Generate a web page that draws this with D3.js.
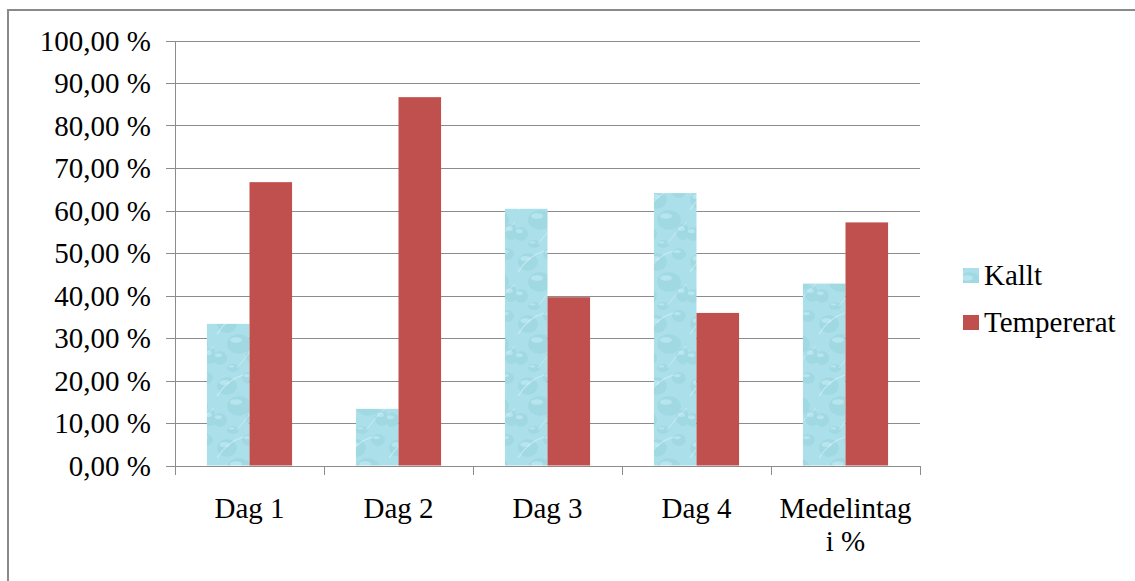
<!DOCTYPE html>
<html>
<head>
<meta charset="utf-8">
<script src="https://cdn.jsdelivr.net/npm/d3@7"></script>
<style>
  html, body { margin: 0; padding: 0; background: #fff; }
  svg { display: block; }
  text { font-family: "Liberation Serif", "Times New Roman", serif; fill: #000; }
</style>
</head>
<body>
<div id="chart"></div>
<script>
const categories = ["Dag 1", "Dag 2", "Dag 3", "Dag 4", "Medelintag i %"];
const seriesNames = ["Kallt", "Tempererat"];
const kallt = [33.33, 13.33, 60.4, 64.1, 42.8];
const tempererat = [66.67, 86.67, 39.6, 35.9, 57.2];
const yTicks = [0, 10, 20, 30, 40, 50, 60, 70, 80, 90, 100];

const W = 1135, H = 581;
const plot = { left: 175, right: 920, top: 40.5, bottom: 465.5 };
const FS = 29;

const svg = d3.select("#chart").append("svg").attr("width", W).attr("height", H);

// water-drop texture for "Kallt"
const defs = svg.append("defs");
const pat = defs.append("pattern").attr("id", "water")
  .attr("patternUnits", "userSpaceOnUse").attr("width", 43).attr("height", 62);
pat.append("rect").attr("width", 43).attr("height", 62).attr("fill", "#abe0ea");
const drops = [
  [12, 14, 10, 9], [34, 6, 7, 6], [24, 34, 12, 10], [5, 48, 7, 7], [38, 46, 7, 8], [18, 58, 6, 4]
];
drops.forEach(d => {
  pat.append("ellipse").attr("cx", d[0]).attr("cy", d[1]).attr("rx", d[2]).attr("ry", d[3])
    .attr("fill", "#94d0dc").attr("opacity", 0.45);
  pat.append("ellipse").attr("cx", d[0] - d[2] * 0.25).attr("cy", d[1] - d[3] * 0.4)
    .attr("rx", d[2] * 0.5).attr("ry", d[3] * 0.28)
    .attr("fill", "#c6edf4").attr("opacity", 0.6);
});
pat.append("path").attr("d", "M2 24 Q12 8 28 3").attr("stroke", "#d9f4f8").attr("stroke-width", 1.2).attr("fill", "none").attr("opacity", 0.6);
pat.append("path").attr("d", "M22 58 Q32 44 42 36").attr("stroke", "#d9f4f8").attr("stroke-width", 1).attr("fill", "none").attr("opacity", 0.5);

// outer chart border (only top & left visible)
svg.append("path").attr("d", `M8,${H + 5} L8,10 L${W + 5},10`)
  .attr("fill", "none").attr("stroke", "#8a8a8a").attr("stroke-width", 2);

const x = d3.scaleBand().domain(categories).range([plot.left, plot.right]).padding(0);
const xs = d3.scaleBand().domain(seriesNames).range([0, x.bandwidth()]).paddingInner(0).paddingOuter(0.75);
const y = d3.scaleLinear().domain([0, 100]).range([plot.bottom, plot.top]);

const gridColor = "#8c8c8c";
// gridlines + y ticks
svg.append("g").selectAll("line").data(yTicks).join("line")
  .attr("x1", plot.left - 9).attr("x2", plot.right)
  .attr("y1", d => Math.round(y(d)) + 0.5).attr("y2", d => Math.round(y(d)) + 0.5)
  .attr("stroke", gridColor).attr("stroke-width", 1);

// y axis line
svg.append("line").attr("x1", plot.left + 0.5).attr("x2", plot.left + 0.5)
  .attr("y1", Math.round(y(100))).attr("y2", Math.round(y(0)) + 0.5)
  .attr("stroke", gridColor);

// y labels
svg.append("g").selectAll("text").data(yTicks).join("text")
  .attr("x", 151).attr("y", d => y(d)).attr("dy", "0.35em")
  .attr("text-anchor", "end").attr("font-size", FS)
  .text(d => d3.format(".2f")(d).replace(".", ",") + " %");

// x tick marks at category boundaries
const boundaries = categories.map(c => x(c)).concat([x(categories[categories.length - 1]) + x.bandwidth()]);
svg.append("g").selectAll("line").data(boundaries).join("line")
  .attr("x1", d => Math.round(d) + 0.5).attr("x2", d => Math.round(d) + 0.5)
  .attr("y1", Math.round(y(0))).attr("y2", Math.round(y(0)) + 9)
  .attr("stroke", gridColor);

// bars
const rows = categories.map((c, i) => ({ c, vals: [kallt[i], tempererat[i]] }));
const fills = ["url(#water)", "#c0504d"];
const g = svg.append("g");
rows.forEach(r => {
  g.selectAll(null).data(r.vals.map((v, j) => ({ v, s: seriesNames[j], j }))).join("rect")
    .attr("x", d => x(r.c) + xs(d.s))
    .attr("width", xs.bandwidth())
    .attr("y", d => y(d.v))
    .attr("height", d => y(0) - y(d.v))
    .attr("fill", d => fills[d.j]);
});

// x labels
const xl = svg.append("g");
categories.forEach(c => {
  const cx = x(c) + x.bandwidth() / 2;
  const lines = c === "Medelintag i %" ? ["Medelintag", "i %"] : [c];
  lines.forEach((t, k) => {
    xl.append("text").attr("x", cx).attr("y", 518 + k * 33)
      .attr("text-anchor", "middle").attr("font-size", FS).text(t);
  });
});

// legend
const leg = svg.append("g");
seriesNames.forEach((s, i) => {
  const ly = 268 + i * 47;
  leg.append("rect").attr("x", 963).attr("y", ly).attr("width", 16).attr("height", 15)
    .attr("fill", fills[i]);
  leg.append("text").attr("x", 984).attr("y", ly + 17).attr("font-size", FS).text(s);
});
</script>
</body>
</html>
